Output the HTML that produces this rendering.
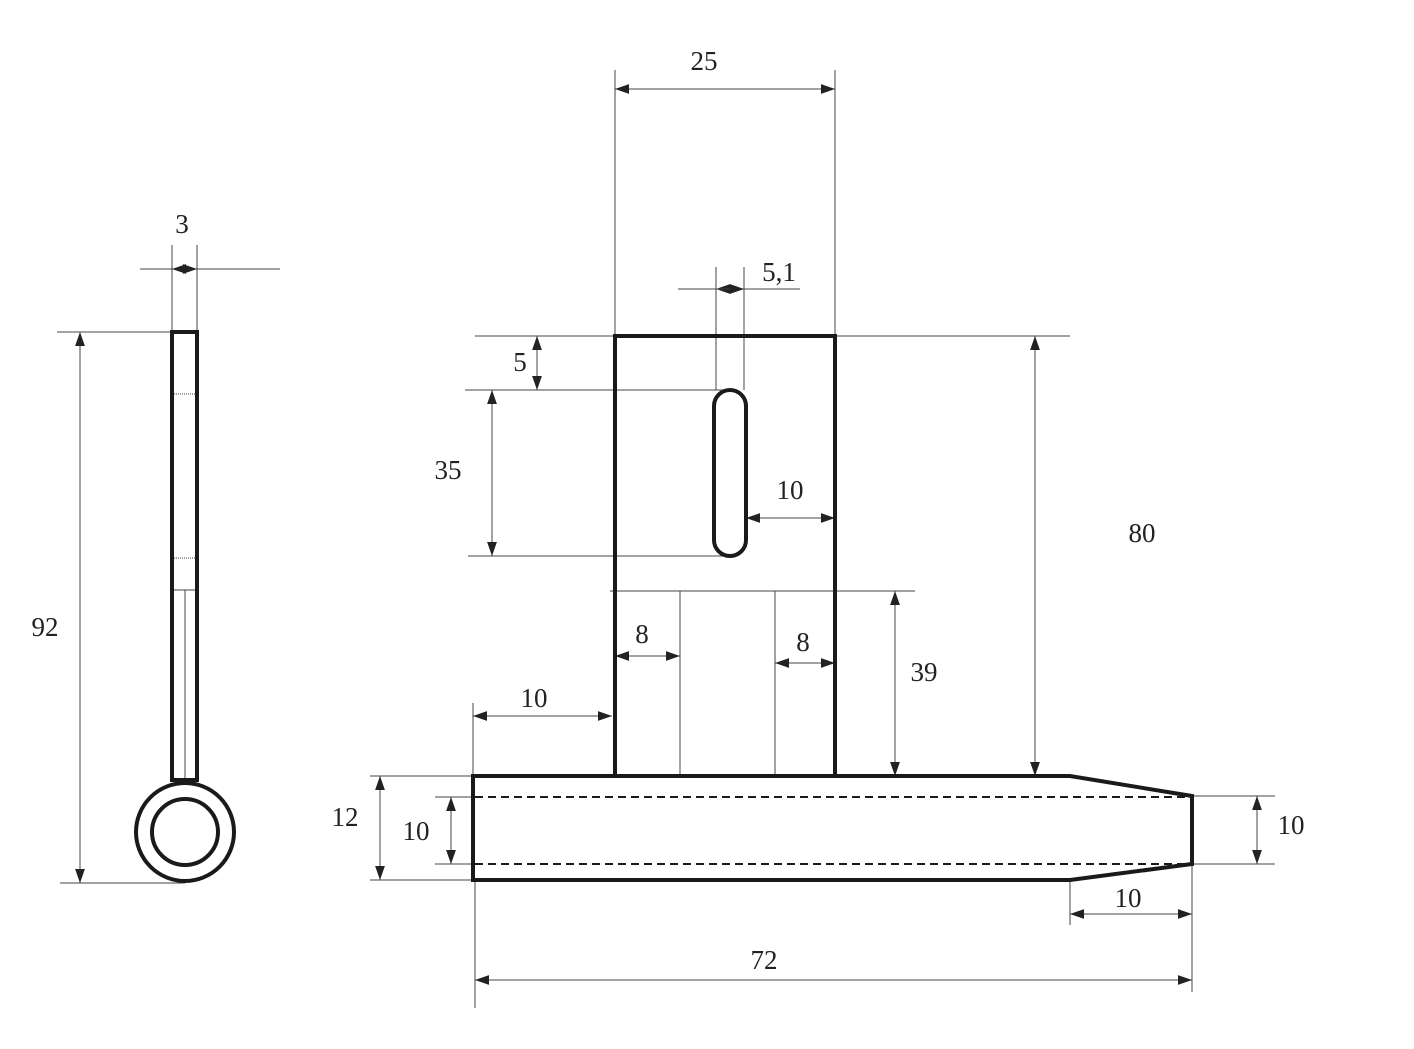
<!DOCTYPE html>
<html><head><meta charset="utf-8"><style>html,body{margin:0;padding:0;background:#fff}svg{display:block}text{font-family:"Liberation Serif",serif;font-size:27px;fill:#222;text-anchor:middle}</style></head>
<body>
<svg width="1414" height="1049" viewBox="0 0 1414 1049" xmlns="http://www.w3.org/2000/svg">
<defs>
<marker id="a" viewBox="0 0 10 10" refX="10" refY="5" markerWidth="14" markerHeight="14" markerUnits="userSpaceOnUse" orient="auto-start-reverse"><path d="M0,1.5 L10,5 L0,8.5z" fill="#222"/></marker>
</defs>
<g stroke="#444" stroke-width="1" fill="none">
<line x1="172" y1="245" x2="172" y2="332"/><line x1="197" y1="245" x2="197" y2="332"/>
<line x1="140" y1="269" x2="280" y2="269"/>
<line x1="184" y1="269" x2="172" y2="269" marker-end="url(#a)"/>
<line x1="185" y1="269" x2="197" y2="269" marker-end="url(#a)"/>
<line x1="57" y1="332" x2="172" y2="332"/><line x1="60" y1="883" x2="185" y2="883"/>
<line x1="80" y1="332" x2="80" y2="883" marker-start="url(#a)" marker-end="url(#a)"/>
<line x1="185" y1="590" x2="185" y2="780"/><line x1="174" y1="590" x2="196" y2="590"/>
<line x1="174" y1="394" x2="196" y2="394" stroke-dasharray="1 1"/>
<line x1="174" y1="558" x2="196" y2="558" stroke-dasharray="1 1"/>
<line x1="615" y1="70" x2="615" y2="336"/><line x1="835" y1="70" x2="835" y2="336"/>
<line x1="615" y1="89" x2="835" y2="89" marker-start="url(#a)" marker-end="url(#a)"/>
<line x1="716" y1="267" x2="716" y2="390"/><line x1="744" y1="267" x2="744" y2="390"/>
<line x1="678" y1="289" x2="800" y2="289"/>
<line x1="744" y1="289" x2="716" y2="289" marker-end="url(#a)"/>
<line x1="716" y1="289" x2="744" y2="289" marker-end="url(#a)"/>
<line x1="475" y1="336" x2="615" y2="336"/><line x1="465" y1="390" x2="730" y2="390"/>
<line x1="537" y1="336" x2="537" y2="390" marker-start="url(#a)" marker-end="url(#a)"/>
<line x1="468" y1="556" x2="730" y2="556"/>
<line x1="492" y1="390" x2="492" y2="556" marker-start="url(#a)" marker-end="url(#a)"/>
<line x1="746" y1="518" x2="835" y2="518" marker-start="url(#a)" marker-end="url(#a)"/>
<line x1="835" y1="336" x2="1070" y2="336"/>
<line x1="1035" y1="336" x2="1035" y2="776" marker-start="url(#a)" marker-end="url(#a)"/>
<line x1="610" y1="591" x2="915" y2="591"/>
<line x1="895" y1="591" x2="895" y2="776" marker-start="url(#a)" marker-end="url(#a)"/>
<line x1="680" y1="591" x2="680" y2="776"/><line x1="775" y1="591" x2="775" y2="776"/>
<line x1="615" y1="656" x2="680" y2="656" marker-start="url(#a)" marker-end="url(#a)"/>
<line x1="775" y1="663" x2="835" y2="663" marker-start="url(#a)" marker-end="url(#a)"/>
<line x1="473" y1="703" x2="473" y2="776"/>
<line x1="473" y1="716" x2="612" y2="716" marker-start="url(#a)" marker-end="url(#a)"/>
<line x1="370" y1="776" x2="473" y2="776"/><line x1="370" y1="880" x2="473" y2="880"/>
<line x1="380" y1="776" x2="380" y2="880" marker-start="url(#a)" marker-end="url(#a)"/>
<line x1="435" y1="797" x2="473" y2="797"/><line x1="435" y1="864" x2="473" y2="864"/>
<line x1="451" y1="797" x2="451" y2="864" marker-start="url(#a)" marker-end="url(#a)"/>
<line x1="1192" y1="796" x2="1275" y2="796"/><line x1="1192" y1="864" x2="1275" y2="864"/>
<line x1="1257" y1="796" x2="1257" y2="864" marker-start="url(#a)" marker-end="url(#a)"/>
<line x1="1070" y1="880" x2="1070" y2="925"/><line x1="1192" y1="864" x2="1192" y2="992"/>
<line x1="1070" y1="914" x2="1192" y2="914" marker-start="url(#a)" marker-end="url(#a)"/>
<line x1="475" y1="880" x2="475" y2="1008"/>
<line x1="475" y1="980" x2="1192" y2="980" marker-start="url(#a)" marker-end="url(#a)"/>
</g>
<g stroke="#1a1a1a" stroke-width="4" fill="none">
<rect x="172" y="332" width="25" height="448"/>
<circle cx="185" cy="832" r="49"/>
<circle cx="185" cy="832" r="33"/>
<rect x="615" y="336" width="220" height="440"/>
<rect x="714" y="390" width="32" height="166" rx="16"/>
<path d="M473,776 L1070,776 L1192,796 L1192,864 L1070,880 L473,880 Z"/>
</g>
<g stroke="#1a1a1a" stroke-width="2" stroke-dasharray="8 5">
<line x1="475" y1="797" x2="1192" y2="797"/><line x1="475" y1="864" x2="1192" y2="864"/>
</g>
<text x="182" y="233">3</text>
<text x="45" y="636">92</text>
<text x="704" y="70">25</text>
<text x="779" y="281">5,1</text>
<text x="520" y="371">5</text>
<text x="448" y="479">35</text>
<text x="790" y="499">10</text>
<text x="1142" y="542">80</text>
<text x="924" y="681">39</text>
<text x="642" y="643">8</text>
<text x="803" y="651">8</text>
<text x="534" y="707">10</text>
<text x="345" y="826">12</text>
<text x="416" y="840">10</text>
<text x="1291" y="834">10</text>
<text x="1128" y="907">10</text>
<text x="764" y="969">72</text>
</svg>
</body></html>
